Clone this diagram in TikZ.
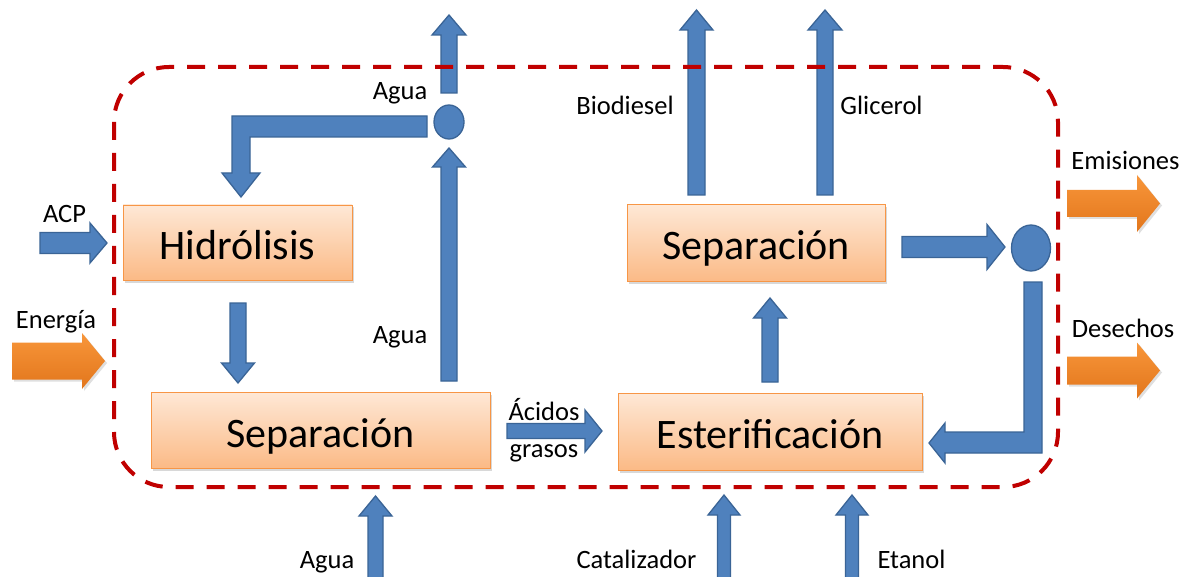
\documentclass[tikz,border=0pt]{standalone}
\usepackage{fontspec}
\setmainfont{Carlito}
\usetikzlibrary{shadows,shapes.geometric}
\definecolor{arrblue}{HTML}{4F81BD}
\definecolor{arrblueedge}{HTML}{3A6496}
\definecolor{boxedge}{HTML}{F79646}
\definecolor{boxtop}{HTML}{FEE8D6}
\definecolor{boxbot}{HTML}{FBBA86}
\definecolor{orgtop}{HTML}{F8963A}
\definecolor{orgbot}{HTML}{E2761C}
\definecolor{dashred}{HTML}{C00000}
\tikzset{
  blockarr/.style={fill=arrblue, draw=arrblueedge, line width=1.3pt, line join=miter},
  orangearr/.style={top color=orgtop, bottom color=orgbot, draw=none,
     drop shadow={shadow xshift=2pt, shadow yshift=-2pt, opacity=0.25}},
  procbox/.style={rectangle, draw=boxedge, line width=0.9pt, top color=boxtop, bottom color=boxbot,
     font=\fontsize{42}{46}\selectfont, inner sep=0pt, text height=34pt, text depth=0pt,
     drop shadow={shadow xshift=2pt, shadow yshift=-2.5pt, opacity=0.3}},
  lbl/.style={font=\fontsize{26.5}{30}\selectfont, anchor=base, inner sep=0pt},
  junction/.style={ellipse, fill=arrblue, draw=arrblueedge, line width=1.3pt, inner sep=0pt},
  boundary/.style={draw=dashred, line width=4pt, dash pattern=on 18pt off 13pt, rounded corners=55pt}
}
% #1 style, #2 cx, #3 ybottom, #4 ytip, #5 half shaft, #6 half head, #7 head length
\newcommand\UpArr[7]{\path[#1] (#2-#5,#3) -- (#2-#5,#4+#7) -- (#2-#6,#4+#7) -- (#2,#4) -- (#2+#6,#4+#7) -- (#2+#5,#4+#7) -- (#2+#5,#3) -- cycle;}
\newcommand\DownArr[7]{\path[#1] (#2-#5,#3) -- (#2-#5,#4-#7) -- (#2-#6,#4-#7) -- (#2,#4) -- (#2+#6,#4-#7) -- (#2+#5,#4-#7) -- (#2+#5,#3) -- cycle;}
% #2 cy, #3 xleft, #4 xtip
\newcommand\RightArr[7]{\path[#1] (#3,#2-#5) -- (#4-#7,#2-#5) -- (#4-#7,#2-#6) -- (#4,#2) -- (#4-#7,#2+#6) -- (#4-#7,#2+#5) -- (#3,#2+#5) -- cycle;}
\begin{document}
\begin{tikzpicture}[x=1pt,y=-1pt]
\useasboundingbox (0,0) rectangle (1196,577);
\clip (0,0) rectangle (1196,577);
\fill[white] (0,0) rectangle (1196,577);

% process boxes
\node[procbox, minimum width=229pt, minimum height=75pt] (hid) at (237.5,242.5) {Hidrólisis};
\node[procbox, minimum width=339pt, minimum height=76pt] (sep1) at (320.5,430) {Separación};
\node[procbox, minimum width=304pt, minimum height=77pt] (est) at (770,431.5) {Esterificación};
\node[procbox, minimum width=258pt, minimum height=77pt] (sep2) at (756,243) {Separación};

% junctions
\node[junction, minimum width=30pt, minimum height=34pt] (j1) at (449,122) {};
\node[junction, minimum width=39pt, minimum height=46pt] (j2) at (1031,248) {};

% input arrows
\RightArr{blockarr}{243}{40}{107}{10.5}{20}{17}
\RightArr{orangearr}{361}{12}{105}{18.5}{28}{23}
\UpArr{blockarr}{375.5}{585}{496}{7.5}{16.5}{20}
\UpArr{blockarr}{724}{585}{495}{6.5}{16}{20}
\UpArr{blockarr}{852}{585}{495}{6.5}{16}{20}

% internal flows
\DownArr{blockarr}{238}{303}{383}{8}{16.5}{20}
\UpArr{blockarr}{449}{381}{148}{8}{16.5}{19}
\UpArr{blockarr}{449}{93}{15}{8}{17}{20}
\path[blockarr] (427,116) -- (232,116) -- (232,173) -- (222,173) -- (241,197) -- (260,173) -- (250,173) -- (250,137) -- (427,137) -- cycle;
\RightArr{blockarr}{431}{507}{602}{7.5}{21}{17}
\UpArr{blockarr}{770}{382}{298}{8}{16.5}{20}
\UpArr{blockarr}{696.5}{195}{10}{8.5}{16.5}{20}
\UpArr{blockarr}{825}{195}{10}{8}{17}{20}
\RightArr{blockarr}{247}{902}{1005}{10.5}{22.5}{18}
\path[blockarr] (1024,282) -- (1042,282) -- (1042,453) -- (945,453) -- (945,463) -- (929,443) -- (945,423) -- (945,432) -- (1024,432) -- cycle;

% outputs
\RightArr{orangearr}{203.5}{1067}{1160}{13.5}{28.5}{23}
\RightArr{orangearr}{370.5}{1067}{1160}{14}{28}{23}

% system boundary
\draw[boundary] (114,67) rectangle (1058,487);

% labels
\node[lbl] (lacp) at (64.5,223) {ACP};
\node[lbl] (lene) at (56,328) {Energía};
\node[lbl] (lag1) at (400,100) {Agua};
\node[lbl] (lag2) at (400,343) {Agua};
\node[lbl] (lag3) at (327,568) {Agua};
\node[lbl] (lcat) at (636.5,568) {Catalizador};
\node[lbl] (leta) at (911.5,568) {Etanol};
\node[lbl] (lbio) at (625,115) {Biodiesel};
\node[lbl] (lgli) at (881.5,115) {Glicerol};
\node[lbl] (lemi) at (1125.5,170) {Emisiones};
\node[lbl] (ldes) at (1123,337) {Desechos};
\node[lbl] (laci) at (544,420) {Ácidos};
\node[lbl] (lgra) at (544,457) {grasos};
\end{tikzpicture}
\end{document}
